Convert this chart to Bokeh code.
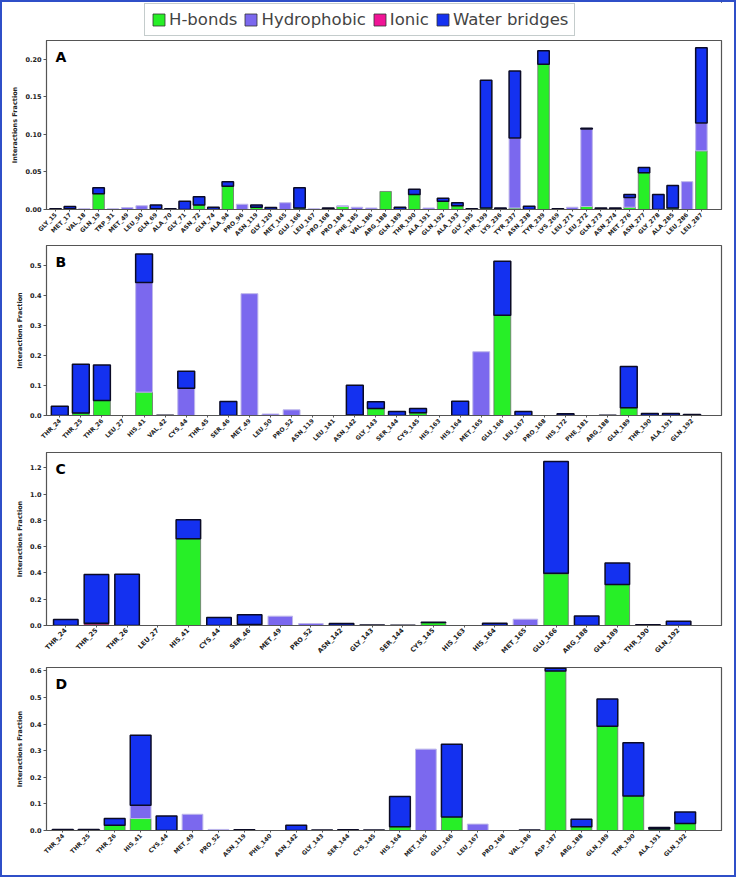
import math
import numpy as np
from bokeh.plotting import figure
from bokeh.models import (ColumnDataSource, Range1d, FixedTicker, NumeralTickFormatter,
                          Label, Legend, LegendItem)
from bokeh.layouts import column
from bokeh.embed import file_html
from bokeh.resources import INLINE

series_names = ["H-bonds", "Hydrophobic", "Ionic", "Water bridges"]
fill_colors = ["#27ef27", "#7b68ee", "#f01496", "#1431f0"]
edge_colors = ["#6f6f6f", "#bdb6ea", "#a0105f", "#0b0b26"]
edge_widths = [0.8, 1.0, 1.0, 1.5]

# ---------------- Panel A ----------------
a_res = ["GLY_15", "MET_17", "VAL_18", "GLN_19", "TRP_31", "MET_49", "LEU_50", "GLN_69",
         "ALA_70", "GLY_71", "ASN_72", "GLN_74", "ALA_94", "PRO_96", "ASN_119", "GLY_120",
         "MET_165", "GLU_166", "LEU_167", "PRO_168", "PRO_184", "PHE_185", "VAL_186",
         "ARG_188", "GLN_189", "THR_190", "ALA_191", "GLN_192", "ALA_193", "GLY_195",
         "THR_199", "LYS_236", "TYR_237", "ASN_238", "TYR_239", "LYS_269", "LEU_271",
         "LEU_272", "GLN_273", "ASN_274", "MET_276", "ASN_277", "GLY_278", "ALA_285",
         "LEU_286", "LEU_287"]
a_hbond = [0, 0.001, 0, 0.021, 0, 0, 0, 0.001, 0, 0, 0.006, 0, 0.031, 0, 0.003, 0,
           0, 0.002, 0, 0, 0.004, 0, 0, 0.024, 0, 0.020, 0, 0.011, 0.005, 0,
           0.002, 0, 0.002, 0, 0.193, 0, 0, 0.004, 0, 0, 0.003, 0.049, 0, 0.002, 0, 0.078]
a_hydro = [0, 0, 0.001, 0, 0.001, 0.0026, 0.005, 0, 0, 0, 0, 0, 0, 0.007, 0, 0,
           0.009, 0, 0.001, 0, 0.001, 0.003, 0.002, 0, 0, 0, 0.002, 0, 0, 0,
           0, 0, 0.093, 0, 0, 0, 0.003, 0.103, 0, 0, 0.013, 0, 0, 0, 0.037, 0.037]
a_ionic = [0] * 46
a_water = [0.001, 0.003, 0, 0.008, 0, 0, 0, 0.005, 0.001, 0.011, 0.011, 0.003, 0.006, 0, 0.003, 0.0025,
           0, 0.027, 0, 0.002, 0, 0, 0, 0, 0.003, 0.007, 0, 0.004, 0.004, 0.001,
           0.170, 0.002, 0.089, 0.0044, 0.018, 0.001, 0, 0.001, 0.002, 0.002, 0.004, 0.007, 0.020, 0.030,
           0, 0.100]
a_ticks = [0.0, 0.05, 0.10, 0.15, 0.20]

# ---------------- Panel B ----------------
b_res = ["THR_24", "THR_25", "THR_26", "LEU_27", "HIS_41", "VAL_42", "CYS_44", "THR_45",
         "SER_46", "MET_49", "LEU_50", "PRO_52", "ASN_119", "LEU_141", "ASN_142", "GLY_143",
         "SER_144", "CYS_145", "HIS_163", "HIS_164", "MET_165", "GLU_166", "LEU_167",
         "PRO_168", "HIS_172", "PHE_181", "ARG_188", "GLN_189", "THR_190", "ALA_191", "GLN_192"]
b_hbond = [0, 0.008, 0.050, 0, 0.078, 0, 0, 0, 0, 0, 0, 0, 0, 0, 0.002, 0.023,
           0, 0.009, 0, 0, 0, 0.335, 0, 0, 0, 0, 0, 0.026, 0, 0, 0]
b_hydro = [0, 0, 0, 0, 0.366, 0, 0.091, 0, 0, 0.407, 0.005, 0.019, 0, 0, 0, 0,
           0, 0, 0, 0, 0.213, 0, 0, 0, 0, 0, 0, 0, 0, 0, 0]
b_ionic = [0] * 31
b_water = [0.031, 0.163, 0.119, 0, 0.096, 0.001, 0.057, 0, 0.047, 0, 0, 0, 0, 0, 0.099, 0.023,
           0.013, 0.014, 0, 0.048, 0, 0.180, 0.013, 0, 0.006, 0, 0.001, 0.138, 0.007, 0.007, 0.003]
b_ticks = [0.0, 0.1, 0.2, 0.3, 0.4, 0.5]

# ---------------- Panel C ----------------
c_res = ["THR_24", "THR_25", "THR_26", "LEU_27", "HIS_41", "CYS_44", "SER_46", "MET_49",
         "PRO_52", "ASN_142", "GLY_143", "SER_144", "CYS_145", "HIS_163", "HIS_164",
         "MET_165", "GLU_166", "ARG_188", "GLN_189", "THR_190", "GLN_192"]
c_hbond = [0, 0.010, 0, 0, 0.660, 0, 0.008, 0, 0, 0, 0, 0, 0.022, 0, 0, 0, 0.395, 0, 0.312, 0, 0]
c_hydro = [0, 0, 0, 0, 0, 0, 0, 0.071, 0.015, 0, 0, 0, 0, 0, 0, 0.048, 0, 0, 0, 0, 0]
c_ionic = [0, 0.008, 0, 0, 0, 0, 0, 0, 0, 0, 0, 0, 0, 0, 0, 0, 0.004, 0, 0, 0, 0]
c_water = [0.046, 0.370, 0.390, 0, 0.145, 0.061, 0.073, 0, 0, 0.015, 0.003, 0.002, 0.003, 0,
           0.017, 0, 0.851, 0.073, 0.164, 0.005, 0.033]
c_ticks = [0.0, 0.2, 0.4, 0.6, 0.8, 1.0, 1.2]

# ---------------- Panel D ----------------
d_res = ["THR_24", "THR_25", "THR_26", "HIS_41", "CYS_44", "MET_49", "PRO_52", "ASN_119",
         "PHE_140", "ASN_142", "GLY_143", "SER_144", "CYS_145", "HIS_164", "MET_165",
         "GLU_166", "LEU_167", "PRO_168", "VAL_186", "ASP_187", "ARG_188", "GLN_189",
         "THR_190", "ALA_191", "GLN_192"]
d_hbond = [0, 0, 0.020, 0.045, 0, 0, 0, 0, 0, 0, 0, 0, 0, 0.014, 0, 0.051, 0, 0, 0,
           0.600, 0.014, 0.392, 0.130, 0.006, 0.026]
d_hydro = [0, 0, 0, 0.050, 0, 0.061, 0.004, 0, 0, 0, 0, 0, 0, 0, 0.306, 0, 0.024, 0, 0,
           0, 0, 0, 0, 0, 0]
d_ionic = [0] * 25
d_water = [0.004, 0.004, 0.025, 0.263, 0.055, 0, 0, 0.003, 0, 0.020, 0.002, 0.003, 0.002,
           0.114, 0, 0.273, 0, 0, 0.002, 0.010, 0.028, 0.103, 0.200, 0.005, 0.044]
d_ticks = [0.0, 0.1, 0.2, 0.3, 0.4, 0.5, 0.6]

FONT = "DejaVu Sans"
FRAME = "#555555"
FIG_W = 732


def make_panel(res, series, ymax, ticks, fmt, letter, height, bt, bb, bl, br, xfs):
    n = len(res)
    p = figure(width=FIG_W, height=height, output_backend="svg", toolbar_location=None,
               x_range=Range1d(-0.63, n + 0.4), y_range=Range1d(0, ymax),
               min_border_top=bt, min_border_bottom=bb, min_border_left=bl, min_border_right=br,
               background_fill_color="white", border_fill_color="white")
    p.xgrid.visible = False
    p.ygrid.visible = False
    p.outline_line_color = FRAME
    p.outline_line_width = 1.2
    x = np.arange(n)
    base = np.zeros(n)
    renderers = []
    for k, vals in enumerate(series):
        v = np.array(vals, dtype=float)
        mask = v > 0
        src = ColumnDataSource(dict(x=x[mask], bottom=base[mask], top=(base + v)[mask]))
        r = p.vbar(x="x", bottom="bottom", top="top", width=0.8, source=src,
                   fill_color=fill_colors[k], line_color=edge_colors[k],
                   line_width=edge_widths[k])
        renderers.append(r)
        base = base + v
    xa = p.xaxis[0]
    xa.ticker = FixedTicker(ticks=list(range(n)))
    xa.major_label_overrides = {i: r for i, r in enumerate(res)}
    xa.major_label_orientation = math.pi / 4
    xa.major_label_text_font = FONT
    xa.major_label_text_font_style = "bold"
    xa.major_label_text_font_size = xfs
    xa.major_label_text_color = "#222222"
    xa.major_label_standoff = 2
    xa.major_tick_out = 2
    xa.major_tick_in = 0
    xa.minor_tick_out = 0
    xa.minor_tick_in = 0
    xa.axis_line_color = FRAME
    xa.major_tick_line_color = FRAME
    ya = p.yaxis[0]
    ya.ticker = FixedTicker(ticks=ticks)
    ya.formatter = NumeralTickFormatter(format=fmt)
    ya.major_label_text_font = FONT
    ya.major_label_text_font_style = "bold"
    ya.major_label_text_font_size = "6.5px"
    ya.major_label_text_color = "#222222"
    ya.major_label_standoff = 2
    ya.major_tick_out = 3
    ya.major_tick_in = 0
    ya.minor_tick_out = 0
    ya.minor_tick_in = 0
    ya.axis_line_color = FRAME
    ya.major_tick_line_color = FRAME
    ya.axis_label = "Interactions Fraction"
    ya.axis_label_text_font = FONT
    ya.axis_label_text_font_style = "bold"
    ya.axis_label_text_font_size = "6.5px"
    ya.axis_label_text_color = "#222222"
    ya.axis_label_standoff = 3
    lab = Label(x=-0.63, y=ymax, x_offset=9, y_offset=-8, text=letter,
                text_font=FONT, text_font_style="bold", text_font_size="14px",
                text_baseline="top", text_align="left", text_color="black")
    p.add_layout(lab)
    return p, renderers


# legend strip (its proxy bars sit outside the visible range; only their legend swatches show)
pL = figure(width=FIG_W, height=38, output_backend="svg", toolbar_location=None,
            x_axis_type=None, y_axis_type=None, x_range=Range1d(0, 1), y_range=Range1d(0, 1),
            min_border_top=0, min_border_bottom=0, min_border_left=0, min_border_right=0,
            outline_line_color=None, background_fill_color="white", border_fill_color="white")
pL.xgrid.visible = False
pL.ygrid.visible = False
leg_renderers = []
for k in range(4):
    src = ColumnDataSource(dict(x=[50], bottom=[50], top=[51]))
    leg_renderers.append(pL.vbar(x="x", bottom="bottom", top="top", width=0.8, source=src,
                                 fill_color=fill_colors[k], line_color="#333333", line_width=0.8))
legend = Legend(items=[LegendItem(label=series_names[k], renderers=[leg_renderers[k]]) for k in range(4)],
                orientation="horizontal", location=(98, 4),
                label_text_font=FONT, label_text_font_size="16.5px",
                glyph_width=15, glyph_height=15, label_standoff=3, spacing=6,
                padding=6, margin=0, border_line_color="#8a9a9a", border_line_width=1,
                background_fill_color="white", background_fill_alpha=1.0,
                label_height=18)
pL.add_layout(legend, "center")

pA, _ = make_panel(a_res, [a_hbond, a_hydro, a_ionic, a_water], 0.2247, a_ticks, "0.00", "A",
                   202, 0, 29, 44, 13, "6px")
pB, _ = make_panel(b_res, [b_hbond, b_hydro, b_ionic, b_water], 0.568, b_ticks, "0.0", "B",
                   206, 3, 30, 43, 13, "6px")
pC, _ = make_panel(c_res, [c_hbond, c_hydro, c_ionic, c_water], 1.318, c_ticks, "0.0", "C",
                   214, 4, 37, 37, 13, "6.5px")
pD, _ = make_panel(d_res, [d_hbond, d_hydro, d_ionic, d_water], 0.613, d_ticks, "0.0", "D",
                   213, 5, 45, 43, 11, "6px")

layout = column(pL, pA, pB, pC, pD, spacing=0,
                styles={"border": "2px solid #2f4fc8"})
open("out.html", "w").write(file_html(layout, INLINE))
